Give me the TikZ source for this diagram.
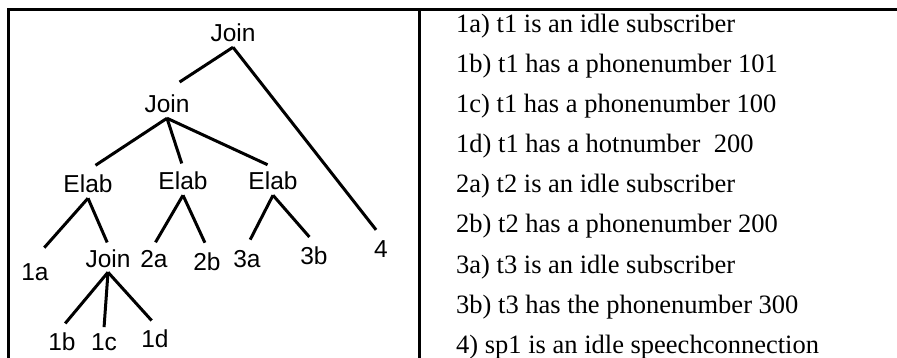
\documentclass[tikz,border=0pt]{standalone}
\usepackage{fontspec}
\setmainfont{Liberation Serif}
\newfontfamily\treefont{Liberation Sans}
\usetikzlibrary{positioning}
\tikzset{
  frameline/.style={line width=3pt},
  lbl/.style={anchor=base, inner sep=5pt, outer sep=0pt,
              font=\treefont\fontsize{24.5}{28}\selectfont},
  edge/.style={line width=3pt, shorten >=6pt},
  fact/.style={anchor=base west, inner sep=0pt,
               font=\fontsize{26.5}{30}\selectfont},
}

\begin{document}
\begin{tikzpicture}[x=1pt, y=1pt]
  \useasboundingbox (0,0) rectangle (897,-358);
  \draw[frameline] (7,-9.5) -- (897,-9.5);
  \draw[frameline] (8.5,-9.5) -- (8.5,-358);
  \draw[frameline] (419.5,-9.5) -- (419.5,-358);

  \node[lbl] (j0) at (233,-42) {Join};
  \node[lbl] (j1) at (167,-113) {Join};
  \node[lbl] (e1) at (88,-193) {Elab};
  \node[lbl] (e2) at (183,-190) {Elab};
  \node[lbl] (e3) at (273,-190) {Elab};
  \node[lbl] (n1a) at (35,-280) {1a};
  \node[lbl] (j2) at (108,-267) {Join};
  \node[lbl] (n2a) at (154,-267) {2a};
  \node[lbl] (n2b) at (207,-270) {2b};
  \node[lbl] (n3a) at (247,-268) {3a};
  \node[lbl] (n3b) at (314,-265) {3b};
  \node[lbl] (n4) at (381,-258) {4};
  \node[lbl] (n1b) at (62,-350) {1b};
  \node[lbl] (n1c) at (104,-350) {1c};
  \node[lbl] (n1d) at (155,-347) {1d};

  \draw[edge, shorten >=15pt] (j0.south) -- (j1.north);
  \draw[edge, shorten >=8pt] (j0.south) -- (n4.north);
  \draw[edge, shorten >=9pt] (j1.south) -- (e1.north);
  \draw[edge, shorten >=4pt] (j1.south) -- (e2.north);
  \draw[edge] (j1.south) -- (e3.north);
  \draw[edge, shorten >=14pt] (e1.south) -- (n1a.north);
  \draw[edge, shorten >=2pt] (e1.south) -- (j2.north);
  \draw[edge, shorten >=3pt] (e2.south) -- (n2a.north);
  \draw[edge, shorten >=5pt] (e2.south) -- (n2b.north);
  \draw[edge, shorten >=7pt] (e3.south) -- (n3a.north);
  \draw[edge, shorten >=7pt] (e3.south) -- (n3b.north);
  \draw[edge, shorten >=5pt] (j2.south) -- (n1b.north);
  \draw[edge, shorten >=1pt] (j2.south) -- (n1c.north);
  \draw[edge, shorten >=5pt] (j2.south) -- (n1d.north);

  \node[fact] (f1a) at (456,-32.5) {1a) t1 is an idle subscriber};
  \node[fact] (f1b) at (456,-72.6) {1b) t1 has a phonenumber 101};
  \node[fact] (f1c) at (456,-112.7) {1c) t1 has a phonenumber 100};
  \node[fact] (f1d) at (456,-152.8) {1d) t1 has a hotnumber~ 200};
  \node[fact] (f2a) at (456,-192.9) {2a) t2 is an idle subscriber};
  \node[fact] (f2b) at (456,-233) {2b) t2 has a phonenumber 200};
  \node[fact] (f3a) at (456,-273.1) {3a) t3 is an idle subscriber};
  \node[fact] (f3b) at (456,-313.2) {3b) t3 has the phonenumber 300};
  \node[fact] (f4) at (456,-353.3) {4) sp1 is an idle speechconnection};
\end{tikzpicture}
\end{document}
